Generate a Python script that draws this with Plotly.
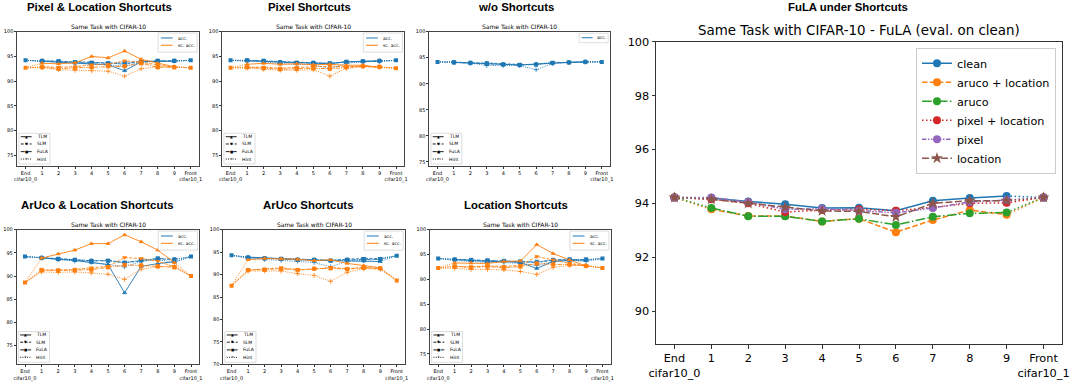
import plotly.graph_objects as go

W, H = 1080, 384

x_labels = ["End<br>cifar10_0", "1", "2", "3", "4", "5", "6", "7", "8", "9", "Front<br>cifar10_1"]
methods = ["TLM", "SLM", "FuLA", "Hint"]

# ---- small panels: rows = TLM, SLM, FuLA, Hint (points 1..9) ----
pix_loc_acc = [
    [94.0, 93.8, 93.7, 93.5, 93.3, 92.1, 93.9, 94.0, 94.0],
    [94.1, 94.0, 93.9, 93.8, 93.7, 93.4, 94.0, 94.0, 94.1],
    [94.1, 94.0, 93.8, 93.7, 93.6, 93.7, 94.0, 94.1, 94.1],
    [94.0, 93.9, 93.6, 93.5, 93.3, 93.0, 93.8, 94.0, 94.1],
]
pix_loc_sc = [
    [93.6, 93.5, 93.7, 95.0, 94.7, 96.1, 94.4, 93.6, 92.9],
    [92.9, 92.8, 92.9, 93.3, 93.4, 94.1, 93.8, 93.3, 92.8],
    [92.8, 92.5, 92.7, 92.8, 93.0, 93.0, 93.6, 92.8, 92.8],
    [92.7, 92.3, 92.2, 92.1, 92.0, 91.0, 92.5, 92.9, 92.9],
]
pix_loc_ends = [94.2, 94.2, 92.7, 92.7]  # acc End, acc Front, sc End, sc Front

pixel_acc = [
    [94.1, 94.0, 93.8, 93.7, 93.6, 93.5, 93.9, 94.0, 94.1],
    [94.2, 94.1, 93.9, 93.8, 93.7, 93.6, 93.9, 94.0, 94.0],
    [94.2, 94.1, 93.8, 93.7, 93.7, 93.6, 93.9, 94.0, 94.1],
    [94.0, 93.9, 93.5, 93.4, 93.3, 92.5, 93.6, 93.9, 94.0],
]
pixel_sc = [
    [93.4, 93.6, 93.4, 93.5, 93.3, 93.4, 93.2, 93.2, 92.8],
    [92.8, 92.8, 92.6, 92.8, 92.9, 93.0, 92.9, 93.0, 92.8],
    [92.8, 92.6, 92.4, 92.5, 92.6, 92.5, 92.8, 93.0, 92.9],
    [92.6, 92.4, 92.2, 92.2, 92.3, 91.0, 92.6, 92.9, 92.8],
]
pixel_ends = [94.2, 94.2, 92.7, 92.6]

wo_acc = [
    [94.1, 94.0, 93.9, 93.7, 93.6, 93.8, 94.0, 94.1, 94.2],
    [94.2, 94.0, 94.0, 93.8, 93.7, 93.7, 94.1, 94.1, 94.2],
    [94.1, 94.0, 93.9, 93.7, 93.6, 93.7, 94.0, 94.1, 94.2],
    [94.1, 94.0, 93.5, 93.5, 93.5, 92.7, 93.9, 94.1, 94.2],
]
wo_ends = [94.2, 94.2]

aru_loc_acc = [
    [93.9, 93.6, 93.4, 92.9, 92.5, 86.4, 92.1, 92.7, 93.1],
    [94.0, 93.8, 93.5, 93.3, 93.4, 92.9, 93.3, 93.7, 93.6],
    [93.9, 93.7, 93.5, 93.3, 93.3, 92.9, 93.4, 93.8, 93.6],
    [94.0, 93.5, 93.3, 93.0, 92.5, 92.0, 93.2, 93.5, 93.0],
]
aru_loc_sc = [
    [93.9, 94.8, 95.6, 97.0, 97.0, 98.9, 97.4, 95.6, 92.9],
    [91.3, 91.3, 91.4, 91.8, 92.1, 94.0, 93.8, 93.2, 92.0],
    [91.3, 91.2, 91.3, 91.4, 91.9, 92.4, 92.3, 92.1, 91.9],
    [90.9, 90.8, 90.9, 90.7, 90.4, 89.3, 91.5, 92.0, 92.2],
]
aru_loc_ends = [94.2, 94.2, 88.6, 90.0]

aruco_acc = [
    [93.9, 93.7, 93.5, 93.4, 93.2, 93.1, 93.0, 93.0, 92.9],
    [93.8, 93.7, 93.5, 93.4, 93.3, 93.2, 93.4, 93.6, 93.6],
    [93.8, 93.6, 93.5, 93.3, 93.3, 93.1, 93.3, 93.4, 93.4],
    [93.6, 93.4, 93.2, 93.0, 92.7, 91.7, 93.0, 93.2, 93.4],
]
aruco_sc = [
    [93.3, 93.6, 93.5, 93.4, 93.1, 93.3, 92.5, 92.0, 91.5],
    [91.0, 91.2, 91.5, 91.1, 91.2, 91.6, 91.3, 91.6, 91.3],
    [91.0, 91.1, 91.3, 91.0, 91.3, 91.4, 91.2, 91.5, 91.4],
    [90.8, 90.8, 90.8, 90.2, 89.8, 88.5, 90.5, 91.3, 91.2],
]
aruco_ends = [94.3, 94.2, 87.5, 88.7]

loc_acc = [
    [94.0, 93.8, 93.6, 93.6, 93.4, 92.2, 93.6, 93.8, 93.9],
    [94.0, 93.9, 93.8, 93.6, 93.5, 93.4, 93.9, 94.0, 93.9],
    [94.0, 93.9, 93.8, 93.7, 93.6, 93.5, 93.9, 94.0, 94.0],
    [93.8, 93.6, 93.4, 93.4, 93.2, 92.8, 93.6, 93.8, 93.6],
]
loc_sc = [
    [93.3, 93.3, 93.2, 93.6, 93.7, 97.0, 95.2, 93.9, 92.7],
    [92.6, 92.5, 92.7, 92.6, 92.8, 94.6, 93.9, 93.2, 92.8],
    [92.6, 92.4, 92.6, 92.3, 92.6, 93.2, 93.0, 93.0, 92.7],
    [92.2, 92.0, 92.0, 91.9, 91.6, 91.0, 92.4, 92.8, 92.8],
]
loc_ends = [94.2, 94.2, 92.3, 92.3]

# ---- big panel: FuLA under shortcuts (End, 1..9, Front) ----
big_names = ["clean", "aruco + location", "aruco", "pixel + location", "pixel", "location"]
fula_clean = [94.22, 94.20, 94.07, 93.97, 93.83, 93.84, 93.73, 94.10, 94.20, 94.27, 94.22]
fula_aruco_loc = [94.22, 93.78, 93.53, 93.53, 93.33, 93.43, 92.93, 93.38, 93.75, 93.58, 94.22]
fula_aruco = [94.22, 93.83, 93.52, 93.52, 93.33, 93.43, 93.20, 93.50, 93.63, 93.66, 94.22]
fula_pix_loc = [94.22, 94.15, 94.00, 93.68, 93.75, 93.78, 93.73, 93.85, 94.00, 94.02, 94.22]
fula_pixel = [94.22, 94.22, 94.05, 93.78, 93.80, 93.73, 93.65, 93.83, 94.05, 94.12, 94.22]
fula_location = [94.22, 94.15, 94.00, 93.85, 93.72, 93.70, 93.50, 94.00, 94.10, 94.10, 94.22]

BLUE, ORANGE = "#1f77b4", "#ff7f0e"
big_colors = ["#1f77b4", "#ff7f0e", "#2ca02c", "#d62728", "#9467bd", "#8c564b"]
big_dashes = ["solid", "5.5px,2.4px", "9.6px,2.4px,1.5px,2.4px", "1.5px,2.5px",
              "4.5px,1.5px,1.5px,1.5px,1.5px,1.5px", "7px,2.5px"]
big_symbols = ["circle", "circle", "circle", "circle", "circle", "star"]

m_dash = ["solid", "3px,1.5px", "4px,1.2px,1px,1.2px", "1px,1.3px"]
m_symbol = ["triangle-up", "triangle-down", "square", "cross-thin"]
m_glyph = ["\u25b2", "\u25bc", "\u25a0", "+"]

MPL = "DejaVu Sans"
BOLD = "Liberation Sans"

panels = [
    dict(title="Pixel & Location Shortcuts", acc=pix_loc_acc, sc=pix_loc_sc, ends=pix_loc_ends,
         yr=[72.8, 100], dx=[17.3, 199.0], row=0, tx=99.5),
    dict(title="Pixel Shortcuts", acc=pixel_acc, sc=pixel_sc, ends=pixel_ends,
         yr=[72.8, 100], dx=[222.3, 404.3], row=0, tx=309),
    dict(title="w/o Shortcuts", acc=wo_acc, sc=None, ends=wo_ends,
         yr=[74.2, 100], dx=[429.3, 610.0], row=0, tx=515.7),
    dict(title="ArUco & Location Shortcuts", acc=aru_loc_acc, sc=aru_loc_sc, ends=aru_loc_ends,
         yr=[71.0, 100], dx=[16.7, 199.3], row=1, tx=97.5),
    dict(title="ArUco Shortcuts", acc=aruco_acc, sc=aruco_sc, ends=aruco_ends,
         yr=[70.0, 100], dx=[223.3, 405.0], row=1, tx=308.8),
    dict(title="Location Shortcuts", acc=loc_acc, sc=loc_sc, ends=loc_ends,
         yr=[72.9, 100], dx=[430.0, 610.7], row=1, tx=516),
]
row_y = [(31.7, 166.0), (229.7, 364.3)]

fig = go.Figure()
layout = dict(
    template="none",
    width=W, height=H, margin=dict(l=0, r=0, t=0, b=0, pad=0, autoexpand=False),
    paper_bgcolor="white", plot_bgcolor="white",
    font=dict(family=MPL, color="black"),
    showlegend=True,
)
shapes, annotations = [], []


def ax_names(k):
    s = "" if k == 1 else str(k)
    return "x" + s, "y" + s, "xaxis" + s, "yaxis" + s


def add_metric(xa, ya, vals, end, front, color):
    for j, m in enumerate(methods):
        fig.add_trace(go.Scatter(
            x=list(range(1, 10)), y=vals[j], xaxis=xa, yaxis=ya, mode="lines+markers",
            line=dict(color=color, width=0.9, dash=m_dash[j]),
            marker=dict(symbol=m_symbol[j], size=3.5, color=color,
                        line=dict(color=color, width=0.8)),
            showlegend=False, hoverinfo="skip"))
    cx, cy = [], []
    for j in range(len(methods)):
        cx += [0, 1, None, 9, 10, None]
        cy += [end, vals[j][0], None, vals[j][-1], front, None]
    fig.add_trace(go.Scatter(
        x=cx, y=cy, xaxis=xa, yaxis=ya, mode="lines",
        line=dict(color=color, width=0.9, dash="1px,1.3px"),
        showlegend=False, hoverinfo="skip"))
    fig.add_trace(go.Scatter(
        x=[0, 10], y=[end, front], xaxis=xa, yaxis=ya, mode="markers",
        marker=dict(symbol="square", size=4, color=color),
        showlegend=False, hoverinfo="skip"))


def text(s, x, y, size, family=MPL, xref="paper", yref="paper", xanchor="center"):
    return dict(text=s, xref=xref, yref=yref, x=x, y=y, xanchor=xanchor, yanchor="middle",
                showarrow=False, font=dict(family=family, size=size, color="black"))


for i, p in enumerate(panels):
    k = i + 1
    xa, ya, xk, yk = ax_names(k)
    top, bot = row_y[p["row"]]
    yt = list(range(70 if p["yr"][0] <= 70 else 75, 101, 5))
    layout[xk] = dict(
        domain=[p["dx"][0] / W, p["dx"][1] / W], anchor=ya, range=[-0.5, 10.5],
        tickmode="array", tickvals=list(range(11)), ticktext=x_labels,
        tickfont=dict(size=5, family=MPL), ticks="outside", ticklen=2, tickwidth=0.6,
        tickcolor="#333", showline=True, linecolor="#444", linewidth=0.8, mirror=True,
        showgrid=False, zeroline=False, automargin=False)
    layout[yk] = dict(
        domain=[1 - bot / H, 1 - top / H], anchor=xa, range=p["yr"],
        tickmode="array", tickvals=yt, tickfont=dict(size=5, family=MPL),
        ticks="outside", ticklen=2, tickwidth=0.6, tickcolor="#333",
        showline=True, linecolor="#444", linewidth=0.8, mirror=True,
        showgrid=False, zeroline=False, automargin=False)

    e = p["ends"]
    add_metric(xa, ya, p["acc"], e[0], e[1], BLUE)
    if p["sc"] is not None:
        add_metric(xa, ya, p["sc"], e[2], e[3], ORANGE)

    # titles
    annotations.append(text("<b>" + p["title"] + "</b>", p["tx"] / W,
                            1 - (6.7 + 198.6 * p["row"]) / H, 11.4, family=BOLD))
    annotations.append(text("Same Task with CIFAR-10", (p["dx"][0] + p["dx"][1]) / 2 / W,
                            1 - (top - 5.7) / H, 6))

    # legends (drawn in axis-domain coords)
    xd, yd = xa + " domain", ya + " domain"
    if p["sc"] is not None:
        entries = [("acc.", BLUE), ("sc. acc.", ORANGE)]
        shapes.append(dict(type="rect", xref=xd, yref=yd, x0=0.775, x1=0.99, y0=0.848, y1=0.99,
                           line=dict(color="#d0d0d0", width=0.7), fillcolor="rgba(255,255,255,0.8)",
                           layer="above"))
        lx0, lx1, tx, rows = 0.79, 0.855, 0.872, [0.953, 0.899]
    else:
        entries = [("acc.", BLUE)]
        shapes.append(dict(type="rect", xref=xd, yref=yd, x0=0.83, x1=0.99, y0=0.918, y1=0.988,
                           line=dict(color="#d0d0d0", width=0.7), fillcolor="rgba(255,255,255,0.8)",
                           layer="above"))
        lx0, lx1, tx, rows = 0.843, 0.904, 0.917, [0.955]
    for (lab, col), ry in zip(entries, rows):
        shapes.append(dict(type="line", xref=xd, yref=yd, x0=lx0, x1=lx1, y0=ry, y1=ry,
                           line=dict(color=col, width=1), layer="above"))
        annotations.append(text(lab, tx, ry, 4.5, xref=xd, yref=yd, xanchor="left"))

    shapes.append(dict(type="rect", xref=xd, yref=yd, x0=0.009, x1=0.18, y0=0.015, y1=0.2435,
                       line=dict(color="#d0d0d0", width=0.7), fillcolor="rgba(255,255,255,0.8)",
                       layer="above"))
    for j, ry in enumerate([0.218, 0.164, 0.107, 0.052]):
        shapes.append(dict(type="line", xref=xd, yref=yd, x0=0.019, x1=0.079, y0=ry, y1=ry,
                           line=dict(color="black", width=0.9, dash=m_dash[j]), layer="above"))
        annotations.append(text(m_glyph[j], 0.049, ry, 3.5, xref=xd, yref=yd))
        annotations.append(text(methods[j], 0.097, ry, 4.5, xref=xd, yref=yd, xanchor="left"))

# ---- big panel ----
big_series = [fula_clean, fula_aruco_loc, fula_aruco, fula_pix_loc, fula_pixel, fula_location]
for j, vals in enumerate(big_series):
    c = big_colors[j]
    fig.add_trace(go.Scatter(
        x=[0, 1, None, 9, 10], y=[vals[0], vals[1], None, vals[9], vals[10]],
        xaxis="x7", yaxis="y7", mode="lines",
        line=dict(color=c, width=1.5, dash="1.5px,2.5px"),
        showlegend=False, hoverinfo="skip"))
for j, vals in enumerate(big_series):
    c = big_colors[j]
    fig.add_trace(go.Scatter(
        x=list(range(1, 10)), y=vals[1:10], xaxis="x7", yaxis="y7", mode="lines+markers",
        name=big_names[j], line=dict(color=c, width=1.5, dash=big_dashes[j]),
        marker=dict(symbol=big_symbols[j], size=8 if big_symbols[j] == "circle" else 9, color=c),
        showlegend=True))
for j, vals in enumerate(big_series):
    c = big_colors[j]
    fig.add_trace(go.Scatter(
        x=[0, 10], y=[vals[0], vals[10]], xaxis="x7", yaxis="y7", mode="markers",
        marker=dict(symbol=big_symbols[j], size=8 if big_symbols[j] == "circle" else 9, color=c),
        showlegend=False, hoverinfo="skip"))

layout["xaxis7"] = dict(
    domain=[656 / W, 1062 / W], anchor="y7", range=[-0.5, 10.5],
    tickmode="array", tickvals=list(range(11)), ticktext=x_labels,
    tickfont=dict(size=11.3, family=MPL), ticks="outside", ticklen=3.5, tickwidth=0.8,
    tickcolor="#333", showline=True, linecolor="#333", linewidth=1, mirror=True,
    showgrid=False, zeroline=False, automargin=False)
layout["yaxis7"] = dict(
    domain=[1 - 344 / H, 1 - 41.7 / H], anchor="x7", range=[88.78, 100],
    tickmode="array", tickvals=[90, 92, 94, 96, 98, 100], tickfont=dict(size=11.3, family=MPL),
    ticks="outside", ticklen=3.5, tickwidth=0.8, tickcolor="#333",
    showline=True, linecolor="#333", linewidth=1, mirror=True,
    showgrid=False, zeroline=False, automargin=False)
layout["legend"] = dict(
    x=1056 / W, xanchor="right", y=1 - 47.7 / H, yanchor="top",
    bgcolor="rgba(255,255,255,0.8)", bordercolor="#cccccc", borderwidth=1,
    font=dict(family=MPL, size=11.2, color="black"), tracegroupgap=0, itemwidth=30)

annotations.append(text("<b>FuLA under Shortcuts</b>", 848 / W, 1 - 6.7 / H, 11.4, family=BOLD))
annotations.append(text("Same Task with CIFAR-10 - FuLA (eval. on clean)", 859 / W,
                        1 - 31 / H, 13.4))

layout["shapes"] = shapes
layout["annotations"] = annotations
fig.update_layout(**layout)

# the page body has a default 8px margin; drop it so the figure sits at the corner
fig.write_html("out.html", config={"displayModeBar": False},
               post_script="document.body.style.margin='0';")
